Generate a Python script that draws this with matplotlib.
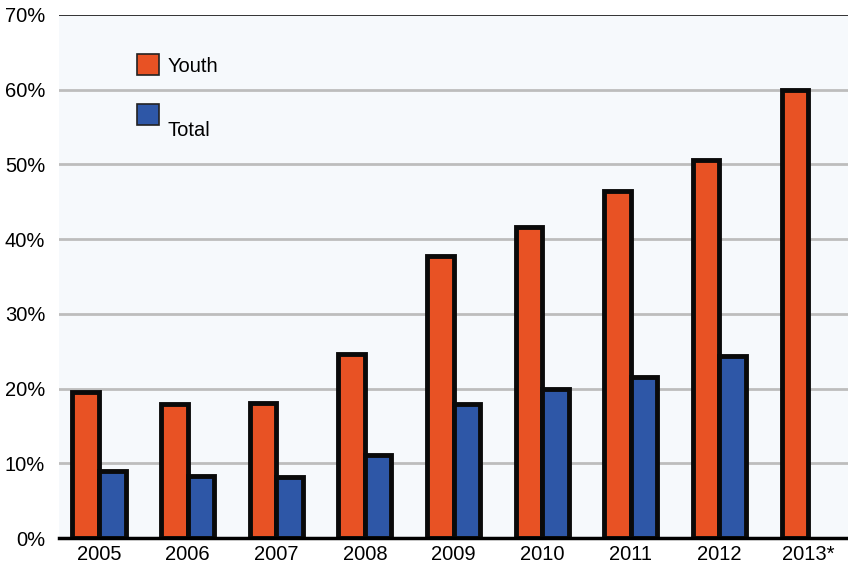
import matplotlib.pyplot as plt
from matplotlib.patches import Rectangle
import numpy as np

years = ['2005', '2006', '2007', '2008', '2009', '2010', '2011', '2012', '2013*']
youth = [19.5, 17.9, 18.1, 24.6, 37.8, 41.6, 46.5, 50.6, 60.0]
total = [9.0, 8.3, 8.1, 11.1, 17.9, 20.0, 21.6, 24.4, None]
y_ticks = [0, 10, 20, 30, 40, 50, 60, 70]

orange = '#e85224'
blue = '#2e57a7'
fs = 14.5

plt.rcParams['font.family'] = ['Liberation Sans', 'DejaVu Sans']

fig = plt.figure(figsize=(8.48, 5.75), dpi=100)
ax = fig.add_axes([0.0696, 0.0643, 0.9304, 0.9097])
ax.set_facecolor('#f6f9fc')

x = np.arange(len(years))
w = 0.3
ax.bar(x - w / 2, youth, width=w, color=orange, edgecolor='#0a0a0a', linewidth=3.5, zorder=3)
tx = [i for i, v in zip(x, total) if v is not None]
tv = [v for v in total if v is not None]
ax.bar(np.array(tx) + w / 2, tv, width=w, color=blue, edgecolor='#0a0a0a', linewidth=3.5, zorder=3)

ax.set_xlim(-0.45, len(years) - 0.55)
ax.set_ylim(0, 70)
ax.set_yticks(y_ticks)
ax.set_yticklabels([f'{t}%' for t in y_ticks], fontsize=fs)
ax.set_xticks(x)
ax.set_xticklabels(years, fontsize=fs)
ax.tick_params(length=0, pad=5)
ax.tick_params(axis='y', pad=10)

for t in y_ticks[1:-1]:
    ax.axhline(t, color='#bdbdbd', lw=2, zorder=1)
ax.axhline(70, color='#111111', lw=1.2, zorder=1)

for s in ['left', 'right', 'top']:
    ax.spines[s].set_visible(False)
ax.spines['bottom'].set_linewidth(2.5)
ax.spines['bottom'].set_zorder(4)

# legend drawn by hand, the Total label sits lower than its box
ax.add_patch(Rectangle((137 / 848, 1 - 75 / 575), 22 / 848, 21 / 575, transform=fig.transFigure,
                       facecolor=orange, edgecolor='#222222', lw=1.2, zorder=5))
ax.add_patch(Rectangle((137 / 848, 1 - 125 / 575), 22 / 848, 21 / 575, transform=fig.transFigure,
                       facecolor=blue, edgecolor='#222222', lw=1.2, zorder=5))
fig.text(168 / 848, 1 - 66 / 575, 'Youth', fontsize=fs, va='center')
fig.text(168 / 848, 1 - 130 / 575, 'Total', fontsize=fs, va='center')

fig.savefig('out.png', dpi=100)
